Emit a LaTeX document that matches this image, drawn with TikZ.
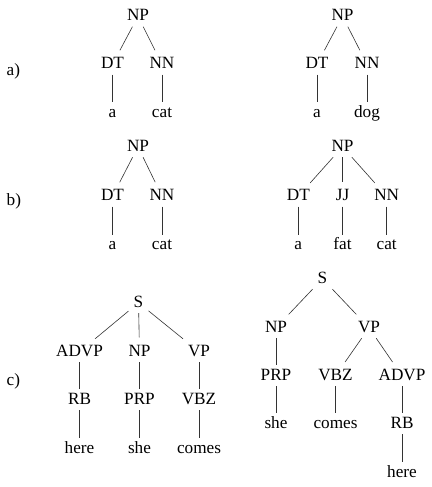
\documentclass[tikz,border=0pt]{standalone}
\usepackage{fontspec}
\setmainfont{Liberation Serif}
\usepackage{tikz}
\usetikzlibrary{positioning}

\begin{document}
\begin{tikzpicture}[
    x=1pt, y=-1pt,
    tag/.style={anchor=base, inner xsep=5pt, inner ysep=2.5pt,
                text height=12pt, text depth=3.5pt,
                font=\fontsize{17.2}{20}\selectfont},
    word/.style={tag},
    part/.style={anchor=base west, inner sep=0pt,
                 font=\fontsize{17.2}{20}\selectfont},
    stem/.style={draw=black!80, line width=0.6pt},
    slant/.style={stem, shorten >=4pt},
]
\useasboundingbox (0,0) rectangle (431,487);

% a)
\node[part] (la) at (6.5,75) {a)};

\node[tag] (anp) at (138,20.5) {NP};
\node[tag] (adt) at (112.5,68.5) {DT};
\node[tag] (ann) at (162,68.5) {NN};
\node[word] (aa) at (112.5,117) {a};
\node[word] (acat) at (162,117) {cat};
\draw (anp) edge[slant] (adt) edge[slant] (ann);
\draw (adt) edge[stem] (aa) (ann) edge[stem] (acat);

\node[tag] (a2np) at (342.5,20.5) {NP};
\node[tag] (a2dt) at (317,68.5) {DT};
\node[tag] (a2nn) at (367,68.5) {NN};
\node[word] (a2a) at (317,117) {a};
\node[word] (a2dog) at (367,117) {dog};
\draw (a2np) edge[slant] (a2dt) edge[slant] (a2nn);
\draw (a2dt) edge[stem] (a2a) (a2nn) edge[stem] (a2dog);

% b)
\node[part] (lb) at (6.5,205) {b)};

\node[tag] (bnp) at (138,151) {NP};
\node[tag] (bdt) at (112.5,200.5) {DT};
\node[tag] (bnn) at (162,200.5) {NN};
\node[word] (ba) at (112.5,249.5) {a};
\node[word] (bcat) at (162,249.5) {cat};
\draw (bnp) edge[slant] (bdt) edge[slant] (bnn);
\draw (bdt) edge[stem] (ba) (bnn) edge[stem] (bcat);

\node[tag] (b2np) at (342.5,151) {NP};
\node[tag] (b2dt) at (298.3,200.5) {DT};
\node[tag] (b2jj) at (342.5,200.5) {JJ};
\node[tag] (b2nn) at (386.7,200.5) {NN};
\node[word] (b2a) at (298.3,249.5) {a};
\node[word] (b2fat) at (342.5,249.5) {fat};
\node[word] (b2cat) at (386.7,249.5) {cat};
\draw (b2np) edge[slant] (b2dt) edge[slant] (b2jj) edge[slant] (b2nn);
\draw (b2dt) edge[stem] (b2a) (b2jj) edge[stem] (b2fat)
      (b2nn) edge[stem] (b2cat);

% c)
\node[part] (lc) at (6.5,385) {c)};

\node[tag] (cs) at (138.5,307) {S};
\node[tag] (cadvp) at (79.5,356) {ADVP};
\node[tag] (cnp) at (139.5,356) {NP};
\node[tag] (cvp) at (199,356) {VP};
\node[tag] (crb) at (79.5,404) {RB};
\node[tag] (cprp) at (139.5,404) {PRP};
\node[tag] (cvbz) at (199,404) {VBZ};
\node[word] (chere) at (79.5,453) {here};
\node[word] (cshe) at (139.5,453) {she};
\node[word] (ccomes) at (199,453) {comes};
\draw (cs) edge[slant] (cadvp) edge[slant] (cnp) edge[slant] (cvp);
\draw (cadvp) edge[stem] (crb) (cnp) edge[stem] (cprp) (cvp) edge[stem] (cvbz);
\draw (crb) edge[stem] (chere) (cprp) edge[stem] (cshe)
      (cvbz) edge[stem] (ccomes);

\node[tag] (c2s) at (322.5,283) {S};
\node[tag] (c2np) at (276,332) {NP};
\node[tag] (c2vp) at (369,332) {VP};
\node[tag] (c2prp) at (276,380) {PRP};
\node[tag] (c2vbz) at (335.5,380) {VBZ};
\node[tag] (c2advp) at (402,380) {ADVP};
\node[word] (c2she) at (276,428) {she};
\node[word] (c2comes) at (335.5,428) {comes};
\node[tag] (c2rb) at (402,428) {RB};
\node[word] (c2here) at (402,477) {here};
\draw (c2s) edge[slant] (c2np) edge[slant] (c2vp);
\draw (c2vp) edge[slant] (c2vbz) edge[slant] (c2advp);
\draw (c2np) edge[stem] (c2prp) (c2prp) edge[stem] (c2she);
\draw (c2vbz) edge[stem] (c2comes) (c2advp) edge[stem] (c2rb)
      (c2rb) edge[stem] (c2here);

\end{tikzpicture}
\end{document}
